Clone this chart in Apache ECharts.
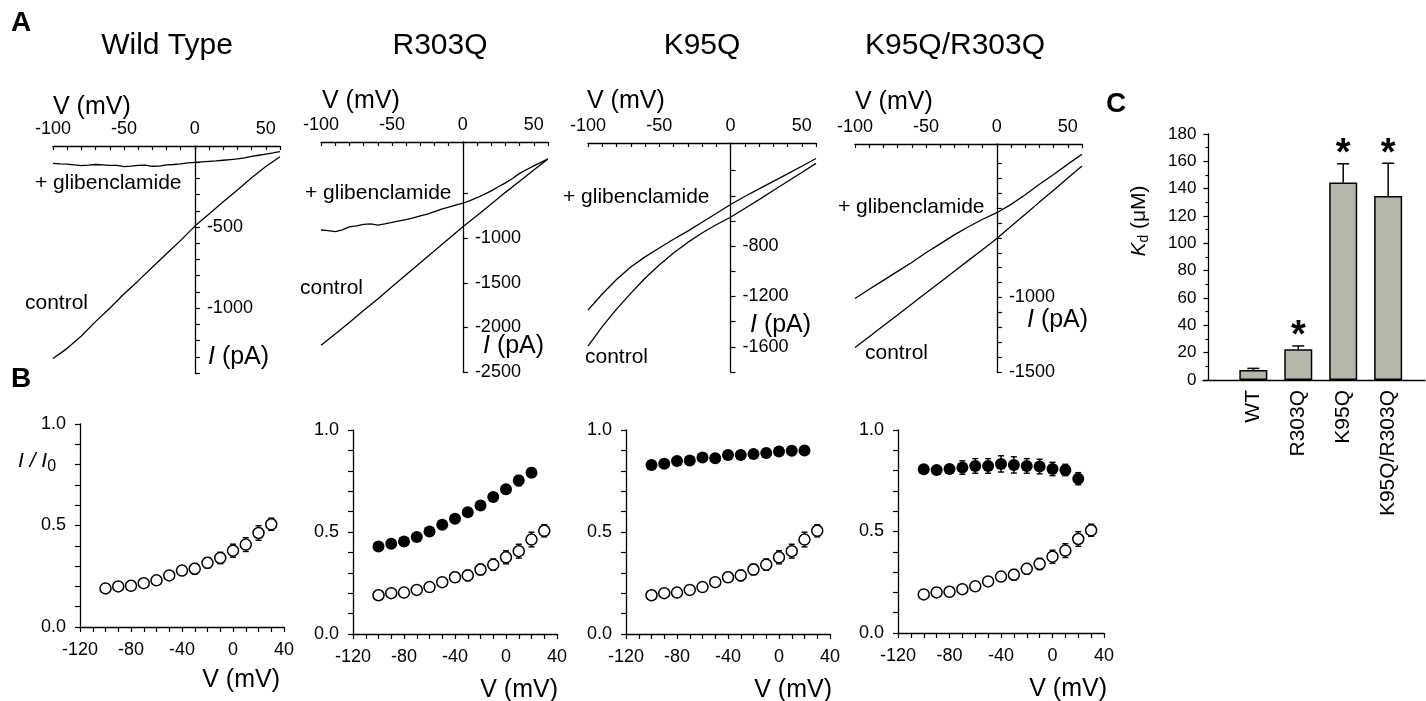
<!DOCTYPE html>
<html lang="en">
<head>
<meta charset="utf-8">
<title>glibenclamide block of KATP mutants</title>
<script src="https://cdn.jsdelivr.net/npm/echarts@6/dist/echarts.min.js"></script>
<style>
  html, body { margin: 0; padding: 0; background: #fff; }
  #main { width: 1426px; height: 701px; }
</style>
</head>
<body>
<div id="main"></div>
<script>
// ---------- data ----------
// panel A: current-voltage ramps (mV, pA)
var vCoarse = [-100, -90, -80, -70, -60, -50, -40, -30, -20, -10, 0, 10, 20, 30, 40, 50, 60];
var vFine = [-100, -95, -90, -85, -80, -75, -70, -65, -60, -55, -50, -45, -40, -35, -30, -25, -20,
             -15, -10, -5, 0, 5, 10, 15, 20, 25, 30, 35, 40, 45, 50, 55, 60];

var wtControl = [-1310, -1248, -1172, -1083, -1001, -913, -832, -748, -664, -582, -494, -420, -344, -271, -196, -126, -66];
var wtGlib = [-107, -110, -112, -117, -121, -118, -114, -116, -120, -119, -127, -124, -119, -118, -125, -124, -117,
              -114, -110, -104, -101, -98, -95, -92, -88, -84, -80, -73, -64, -57, -50, -43, -35];

var r303Control = [-2200, -2075, -1945, -1810, -1680, -1545, -1410, -1275, -1140, -1005, -870, -745, -615, -485, -360, -235, -110];
var r303Glib = [-907, -915, -925, -905, -872, -862, -845, -838, -852, -838, -822, -805, -790, -770, -748, -728, -700,
                -672, -650, -628, -607, -578, -545, -508, -468, -422, -378, -330, -272, -228, -188, -148, -110];

var k95Control = [-1594, -1440, -1300, -1175, -1055, -950, -855, -770, -695, -630, -570, -500, -430, -358, -286, -214, -142];
var k95Glib = [-1308, -1180, -1065, -965, -885, -815, -745, -680, -610, -540, -469, -405, -345, -285, -225, -165, -103];

var dblControl = [-1336, -1263, -1190, -1117, -1044, -970, -897, -824, -751, -678, -604, -522, -442, -360, -280, -198, -118];
var dblGlib = [-1007, -945, -885, -825, -765, -700, -640, -580, -525, -475, -431, -375, -310, -240, -175, -105, -39];

// tick values for panel A
var ivXTicks = [-100, -90, -80, -70, -60, -50, -40, -30, -20, -10, 0, 10, 20, 30, 40, 50, 60];
var ivXLabels = [-100, -50, 0, 50];
var wtYTicks = [-100, -200, -300, -400, -500, -600, -700, -800, -900, -1000, -1100, -1200, -1300, -1400];
var wtYLabels = [-500, -1000];
var r303YTicks = [-500, -1000, -1500, -2000, -2500];
var r303YLabels = [-1000, -1500, -2000, -2500];
var k95YTicks = [-200, -400, -600, -800, -1000, -1200, -1400, -1600, -1800];
var k95YLabels = [-800, -1200, -1600];
var dblYTicks = [-100, -200, -300, -400, -500, -600, -700, -800, -900, -1000, -1100, -1200, -1300, -1400, -1500];
var dblYLabels = [-1000, -1500];

// panel B: fractional current I/I0 (mean, s.e.m.)
var bVolt = [-100, -90, -80, -70, -60, -50, -40, -30, -20, -10, 0, 10, 20, 30];
var wtRatio = [0.19, 0.20, 0.203, 0.216, 0.23, 0.254, 0.278, 0.287, 0.316, 0.34, 0.376, 0.406, 0.463, 0.506];
var wtErr = [0.012, 0.012, 0.013, 0.014, 0.016, 0.018, 0.024, 0.026, 0.026, 0.028, 0.032, 0.034, 0.036, 0.03];
var r303Ratio = [0.429, 0.442, 0.454, 0.475, 0.503, 0.535, 0.565, 0.597, 0.63, 0.671, 0.71, 0.752, 0.791];
var r303Err = [0.01, 0.01, 0.01, 0.012, 0.012, 0.012, 0.014, 0.015, 0.016, 0.018, 0.022, 0.025, 0.022];
var k95Ratio = [0.829, 0.834, 0.848, 0.85, 0.865, 0.862, 0.878, 0.878, 0.882, 0.887, 0.895, 0.898, 0.9];
var k95Err = [0.008, 0.008, 0.008, 0.008, 0.008, 0.008, 0.008, 0.008, 0.008, 0.008, 0.008, 0.008, 0.008];
var dblRatio = [0.807, 0.803, 0.808, 0.815, 0.823, 0.823, 0.833, 0.828, 0.823, 0.82, 0.808, 0.803, 0.76];
var dblErr = [0.015, 0.012, 0.018, 0.033, 0.036, 0.036, 0.04, 0.04, 0.036, 0.036, 0.033, 0.028, 0.03];
var bXTicks = [-120, -110, -100, -90, -80, -70, -60, -50, -40, -30, -20, -10, 0, 10, 20, 30, 40];
var bXLabels = [-120, -80, -40, 0, 40];
var bYTicks = [0, 0.1, 0.2, 0.3, 0.4, 0.5, 0.6, 0.7, 0.8, 0.9, 1.0];
var bYLabels = [0, 0.5, 1.0];

// panel C: Kd (uM)
var kdNames = ['WT', 'R303Q', 'K95Q', 'K95Q/R303Q'];
var kdSlot = [1, 2, 3, 4];
var kdMean = [7.3, 22.5, 144.6, 134.6];
var kdErr = [1.2, 2.4, 13.6, 24];
var kdSig = [false, true, true, true];

// ---------- layout ----------
var FONT = '"Liberation Sans", Arial, Helvetica, sans-serif';
var BLACK = '#000';

var panelsA = [
    {title: 'Wild Type', titleX: 167, box: {left: 53, top: 146, width: 227, height: 227}, yMin: -1400, yMax: 0,
     yTicks: wtYTicks, yLabels: wtYLabels, ctrl: wtControl, glib: wtGlib, glibX: vFine,
     glibPos: [35, 183], ctrlPos: [25, 303], vPos: [53, 107], iPos: [208, 357]},
    {title: 'R303Q', titleX: 440, box: {left: 321, top: 142, width: 227, height: 230}, yMin: -2500, yMax: 80,
     yTicks: r303YTicks, yLabels: r303YLabels, ctrl: r303Control, glib: r303Glib, glibX: vFine,
     glibPos: [305, 193], ctrlPos: [300, 288], vPos: [322, 101], iPos: [483, 346]},
    {title: 'K95Q', titleX: 702, box: {left: 588, top: 143, width: 228, height: 229}, yMin: -1800, yMax: 20,
     yTicks: k95YTicks, yLabels: k95YLabels, ctrl: k95Control, glib: k95Glib, glibX: vCoarse,
     glibPos: [563, 197], ctrlPos: [585, 357], vPos: [587, 101], iPos: [750, 325]},
    {title: 'K95Q/R303Q', titleX: 955, box: {left: 855, top: 144, width: 227, height: 228}, yMin: -1500, yMax: 30,
     yTicks: dblYTicks, yLabels: dblYLabels, ctrl: dblControl, glib: dblGlib, glibX: vCoarse,
     glibPos: [838, 207], ctrlPos: [865, 353], vPos: [855, 102], iPos: [1027, 320]}
];

var panelsB = [
    {box: {left: 80, top: 424, width: 204, height: 203}, filled: null, vPos: [280, 680]},
    {box: {left: 353, top: 430, width: 204, height: 204}, filled: [r303Ratio, r303Err], vPos: [558, 690]},
    {box: {left: 626, top: 430, width: 204, height: 204}, filled: [k95Ratio, k95Err], vPos: [832, 690]},
    {box: {left: 898, top: 430, width: 206, height: 203}, filled: [dblRatio, dblErr], vPos: [1107, 689]}
];

function pairs(xs, ys) {
    return xs.map(function (x, i) { return [x, ys[i]]; });
}

function text(x, y, str, size, extra) {
    var st = {text: str, fontFamily: FONT, fontSize: size, fill: BLACK,
              textAlign: 'left', textVerticalAlign: 'middle'};
    for (var k in (extra || {})) st[k] = extra[k];
    return {type: 'text', x: x, y: y, silent: true, style: st};
}

var grids = [], xAxes = [], yAxes = [], series = [], graphics = [];
var axisLine = {lineStyle: {color: BLACK, width: 1.3}};

// ---------- panel A ----------
panelsA.forEach(function (p, i) {
    var g = grids.length;
    grids.push({left: p.box.left, top: p.box.top, width: p.box.width, height: p.box.height,
                containLabel: false, outerBoundsMode: 'none'});
    xAxes.push({
        type: 'value', gridIndex: g, position: 'top', min: -100, max: 60,
        axisLine: {show: true, onZero: false, lineStyle: axisLine.lineStyle},
        axisTick: {show: true, inside: true, length: 4, customValues: ivXTicks, lineStyle: {color: BLACK, width: 1.2}},
        axisLabel: {customValues: ivXLabels, margin: 8, color: BLACK, fontSize: 18, fontFamily: FONT},
        splitLine: {show: false}
    });
    // the current axis sits at V = 0: shift the right-hand axis back by the 0..60 mV stretch
    var shift = -p.box.width * 60 / 160;
    yAxes.push({
        type: 'value', gridIndex: g, position: 'right', offset: shift, min: p.yMin, max: p.yMax,
        axisLine: {show: true, onZero: false, lineStyle: axisLine.lineStyle},
        axisTick: {show: true, length: 5, customValues: p.yTicks, lineStyle: {color: BLACK, width: 1.2}},
        axisLabel: {customValues: p.yLabels, margin: 12, color: BLACK, fontSize: 18, fontFamily: FONT,
                    formatter: function (v) { return String(v); }},
        splitLine: {show: false}
    });
    series.push({
        type: 'line', xAxisIndex: g, yAxisIndex: g, data: pairs(vCoarse, p.ctrl),
        symbol: 'none', lineStyle: {color: BLACK, width: 1.3}, silent: true
    });
    series.push({
        type: 'line', xAxisIndex: g, yAxisIndex: g, data: pairs(p.glibX, p.glib),
        symbol: 'none', lineStyle: {color: BLACK, width: 1.3}, silent: true
    });
    graphics.push(text(p.titleX, 46, p.title, 30, {textAlign: 'center'}));
    graphics.push(text(p.glibPos[0], p.glibPos[1], '+ glibenclamide', 21));
    graphics.push(text(p.ctrlPos[0], p.ctrlPos[1], 'control', 21));
    graphics.push(text(p.vPos[0], p.vPos[1], 'V (mV)', 25));
    graphics.push(text(p.iPos[0], p.iPos[1], '{i|I} (pA)', 25, {rich: {i: {fontStyle: 'italic', fontSize: 25, fontFamily: FONT}}}));
});

// ---------- panel B ----------
function errorBars(g, xs, ys, es) {
    return {
        type: 'custom', xAxisIndex: g, yAxisIndex: g, z: 2, silent: true,
        encode: {x: 0, y: 1},
        data: xs.map(function (x, i) { return [x, ys[i], es[i]]; }),
        renderItem: function (params, api) {
            var x = api.value(0), y = api.value(1), e = api.value(2);
            var hi = api.coord([x, y + e]), lo = api.coord([x, y - e]);
            var w = 3, st = {stroke: BLACK, lineWidth: 1.4};
            return {type: 'group', children: [
                {type: 'line', shape: {x1: hi[0], y1: hi[1], x2: lo[0], y2: lo[1]}, style: st},
                {type: 'line', shape: {x1: hi[0] - w, y1: hi[1], x2: hi[0] + w, y2: hi[1]}, style: st},
                {type: 'line', shape: {x1: lo[0] - w, y1: lo[1], x2: lo[0] + w, y2: lo[1]}, style: st}
            ]};
        }
    };
}

panelsB.forEach(function (p) {
    var g = grids.length;
    grids.push({left: p.box.left, top: p.box.top, width: p.box.width, height: p.box.height,
                containLabel: false, outerBoundsMode: 'none'});
    xAxes.push({
        type: 'value', gridIndex: g, min: -120, max: 40,
        axisLine: {show: true, onZero: false, lineStyle: axisLine.lineStyle},
        axisTick: {show: true, length: 5, customValues: bXTicks, lineStyle: {color: BLACK, width: 1.2}},
        axisLabel: {customValues: bXLabels, margin: 14, color: BLACK, fontSize: 18, fontFamily: FONT},
        splitLine: {show: false}
    });
    yAxes.push({
        type: 'value', gridIndex: g, min: 0, max: 1,
        axisLine: {show: true, onZero: false, lineStyle: axisLine.lineStyle},
        axisTick: {show: true, length: 5, customValues: bYTicks, lineStyle: {color: BLACK, width: 1.2}},
        axisLabel: {customValues: bYLabels, margin: 14, color: BLACK, fontSize: 18, fontFamily: FONT,
                    formatter: function (v) { return v.toFixed(1); }},
        splitLine: {show: false}
    });
    series.push(errorBars(g, bVolt, wtRatio, wtErr));
    series.push({
        type: 'scatter', xAxisIndex: g, yAxisIndex: g, z: 3, silent: true,
        data: pairs(bVolt, wtRatio), symbol: 'circle', symbolSize: 11,
        itemStyle: {color: '#fff', borderColor: BLACK, borderWidth: 1.5, opacity: 1}
    });
    if (p.filled) {
        var fx = bVolt.slice(0, p.filled[0].length);
        series.push(errorBars(g, fx, p.filled[0], p.filled[1]));
        series.push({
            type: 'scatter', xAxisIndex: g, yAxisIndex: g, z: 3, silent: true,
            data: pairs(fx, p.filled[0]), symbol: 'circle', symbolSize: 12,
            itemStyle: {color: BLACK, opacity: 1}
        });
    }
    graphics.push(text(p.vPos[0], p.vPos[1], 'V (mV)', 25, {textAlign: 'right'}));
});

// I / I0 label
graphics.push(text(18, 461, '{i|I / I}{s|0}', 21, {rich: {
    i: {fontStyle: 'italic', fontSize: 21, fontFamily: FONT},
    s: {fontSize: 16, fontFamily: FONT, padding: [12, 0, 0, 0]}
}}));

// ---------- panel C ----------
var gc = grids.length;
var cLeft = 1203, cWidth = 222, cXMin = -0.12, cXMax = 4.82;
grids.push({left: cLeft, top: 134, width: cWidth, height: 246, containLabel: false, outerBoundsMode: 'none'});
xAxes.push({
    type: 'value', gridIndex: gc, min: cXMin, max: cXMax,
    axisLine: {show: true, onZero: false, lineStyle: axisLine.lineStyle},
    axisTick: {show: false},
    axisLabel: {customValues: kdSlot, rotate: 90, margin: 10, color: BLACK, fontSize: 21, fontFamily: FONT,
                formatter: function (v) { return kdNames[Math.round(v) - 1]; }},
    splitLine: {show: false}
});
yAxes.push({
    type: 'value', gridIndex: gc, min: 0, max: 180, interval: 20,
    offset: -cWidth * (0 - cXMin) / (cXMax - cXMin),
    axisLine: {show: true, onZero: false, lineStyle: axisLine.lineStyle},
    axisTick: {show: true, length: 5, lineStyle: {color: BLACK, width: 1.2}},
    minorTick: {show: true, splitNumber: 2, length: 3, lineStyle: {color: BLACK, width: 1.2}},
    axisLabel: {margin: 12, color: BLACK, fontSize: 17, fontFamily: FONT},
    splitLine: {show: false}
});
series.push({
    type: 'bar', xAxisIndex: gc, yAxisIndex: gc, barWidth: 28, silent: true,
    data: pairs(kdSlot, kdMean),
    itemStyle: {color: '#b6b6aa', borderColor: BLACK, borderWidth: 1.5}
});
series.push({
    type: 'custom', xAxisIndex: gc, yAxisIndex: gc, z: 3, silent: true,
    encode: {x: 0, y: 1},
    data: kdSlot.map(function (x, i) { return [x, kdMean[i], kdErr[i], kdSig[i] ? 1 : 0]; }),
    renderItem: function (params, api) {
        var x = api.value(0), m = api.value(1), e = api.value(2), sig = api.value(3);
        var top = api.coord([x, m + e]), base = api.coord([x, m]);
        var st = {stroke: BLACK, lineWidth: 1.5};
        var kids = [
            {type: 'line', shape: {x1: base[0], y1: base[1], x2: top[0], y2: top[1]}, style: st},
            {type: 'line', shape: {x1: top[0] - 6, y1: top[1], x2: top[0] + 6, y2: top[1]}, style: st}
        ];
        if (sig) {
            kids.push({type: 'text', x: top[0], y: top[1] + 10, style: {
                text: '*', fontFamily: FONT, fontSize: 38, fontWeight: 'bold', fill: BLACK,
                textAlign: 'center', textVerticalAlign: 'bottom'}});
        }
        return {type: 'group', children: kids};
    }
});

// Kd axis title, rotated
graphics.push({
    type: 'text', x: 1139, y: 221, rotation: Math.PI / 2, silent: true,
    style: {text: '{k|K}{d|d}{n| (μM)}', fontFamily: FONT, fontSize: 21, fill: BLACK,
            textAlign: 'center', textVerticalAlign: 'middle',
            rich: {k: {fontStyle: 'italic', fontSize: 21, fontFamily: FONT},
                   d: {fontSize: 14, fontFamily: FONT, padding: [10, 0, 0, 0]},
                   n: {fontSize: 21, fontFamily: FONT}}}
});

// panel letters
graphics.push(text(11, 23, 'A', 28, {fontWeight: 'bold'}));
graphics.push(text(11, 379, 'B', 28, {fontWeight: 'bold'}));
graphics.push(text(1106, 104, 'C', 28, {fontWeight: 'bold'}));

var chart = echarts.init(document.getElementById('main'));
chart.setOption({
    animation: false,
    backgroundColor: '#fff',
    grid: grids,
    xAxis: xAxes,
    yAxis: yAxes,
    series: series,
    graphic: graphics
});
</script>
</body>
</html>
